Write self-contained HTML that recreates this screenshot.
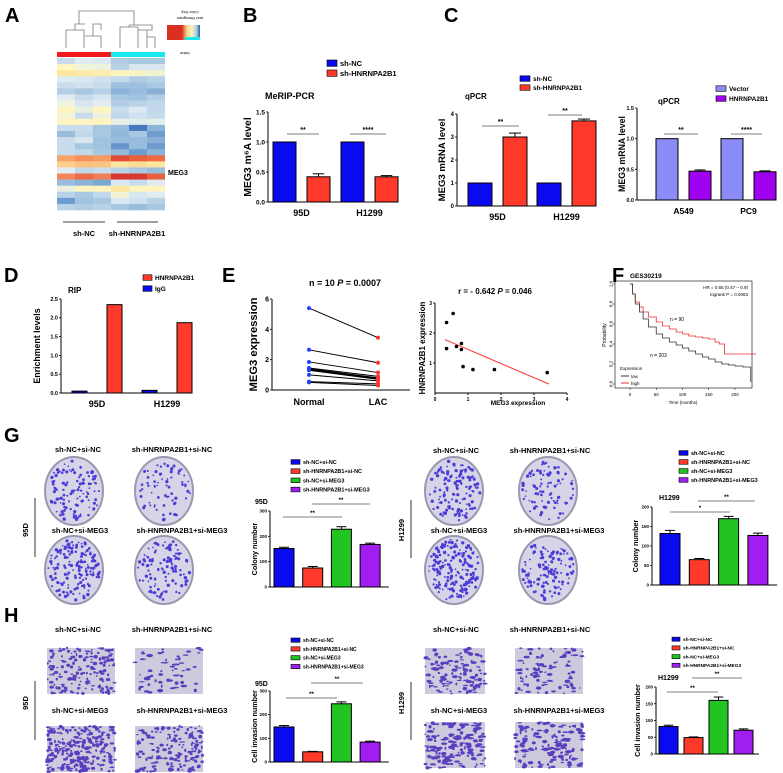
<!DOCTYPE html>
<html><head><meta charset="utf-8"><style>
html,body{margin:0;padding:0;background:#fff}
svg{display:block;font-family:"Liberation Sans",Arial,sans-serif}
</style></head><body>
<svg id="fig" width="783" height="773" viewBox="0 0 783 773" xmlns="http://www.w3.org/2000/svg">
<rect width="783" height="773" fill="#fff"/>
<g font-weight="bold" font-size="20">
<text x="5" y="22">A</text>
<text x="243" y="22">B</text>
<text x="444" y="22">C</text>
<text x="4" y="282">D</text>
<text x="222" y="282">E</text>
<text x="612" y="282">F</text>
<text x="4" y="442">G</text>
<text x="4" y="622">H</text>
</g>
<g id="heat"></g>
<g id="charts"></g>
</svg>
<script>
const NS="http://www.w3.org/2000/svg";
const svg=document.getElementById('fig');
const charts=document.getElementById('charts');
function el(tag,attrs,parent,txt){const e=document.createElementNS(NS,tag);for(const k in attrs)e.setAttribute(k,attrs[k]);if(txt!==undefined)e.textContent=txt;(parent||charts).appendChild(e);return e;}

// ---------- Data ----------
const heatRows=[
["c8dcec","e0ecf4","dce8f2","b0cce2","a8c8e0","a8c8e0"],
["fff7c0","f0f4d8","eef2dc","b8d2e6","d8e6f0","d8e6f0"],
["fde6a0","fdeaa8","fdeeb0","fef4c0","f8f4c8","f0f2d0"],
["dcecf0","dce8f0","d0e2f0","c4dcec","b0cce4","b8d2e8"],
["c8dcee","d0e2ee","c8dcec","a0c0e0","9cc0de","a8c8e4"],
["b4cee6","a8c8e2","b8d0e6","8cb4d8","98bcdc","88b0d6"],
["e0ecf2","c8dcee","d8e6f0","a8c8e2","a0c4e0","b4cee6"],
["f0f4dc","d8e6ee","e4eef0","b4cee6","b8d2e8","c0d8ea"],
["fff4c0","e8f0e0","fef4c0","c8dcec","dce8f2","c0d8ea"],
["f4f4d4","c8dcee","eef2dc","c0d8ea","d0e2ee","c4dcec"],
["fff4c0","fff4c0","fff4c0","e8f0e4","e0ecec","e4eee8"],
["c8dcee","c8dcee","a8c8e2","98bcdc","4a78c0","8cb4d8"],
["98bcdc","c0d8ea","a8c8e2","90b8da","a8c8e2","6c9cd0"],
["c8dcee","d8e6f0","a0c4e0","98bcdc","98bcdc","88b0d6"],
["c8dcee","a8c8e2","a0c4e0","6894cc","98bcdc","6c9cd0"],
["c8dcee","c0d8ea","a8c8e2","94b8da","6c9cd0","8cb4d8"],
["f6a46c","f4905c","f49a64","e04c38","e8603c","ec6a44"],
["fcd08c","fcc080","fcc484","fde6a0","fcdc98","fde6a0"],
["e0ecf2","c0d8ea","c8dcee","b8d2e8","a8c8e2","98bcdc"],
["f4845a","ec6a44","f07e54","d83830","d83830","e8603c"],
["98bcdc","8cb4d8","7ca8d4","dce8f2","c8dcee","e0ecf2"],
["e8f0e0","fff4c0","fff4c0","fde6a0","fff4c0","fff4c0"],
["b8d2e8","a8c8e2","c0d8ea","f4f4d4","d8e6f0","e0ecf2"],
["6c9cd0","a0c4e0","a8c8e2","dce8f2","d0e2ee","b8d2e8"],
["b8d2e8","b0cce4","b8d2e8","a8c8e2","98bcdc","a8c8e2"]];

const B_cats=["95D","H1299"], B_shNC=[1,1], B_shHN=[0.42,0.42], B_errNC=[0,0], B_errHN=[0.05,0.02];
const C1_cats=["95D","H1299"], C1_shNC=[1,1], C1_shHN=[3.0,3.7], C1_errHN=[0.17,0.08];
const C2_cats=["A549","PC9"], C2_vec=[1,1], C2_hn=[0.47,0.46], C2_errHN=[0.02,0.015];
const D_cats=["95D","H1299"], D_igg=[0.05,0.07], D_hn=[2.35,1.87];
const E_normal=[5.4,2.65,1.85,1.45,1.4,1.35,1.3,1.0,0.55,0.5];
const E_lac=[3.45,1.8,1.15,0.9,0.8,0.75,0.7,0.6,0.4,0.3];
const S_meg3=[0.35,0.55,0.35,0.65,0.8,0.8,0.85,1.15,1.8,3.4];
const S_hn=[2.35,2.65,1.48,1.55,1.65,1.45,0.88,0.78,0.78,0.68];
const S_fit=[[0.3,1.78],[3.45,0.3]];
const KM_lowT=[0,5,10,18,25,35,50,62,75,88,100,112,125,138,150,162,175,188,200,215,230];
const KM_lowS=[1,0.9,0.8,0.72,0.65,0.57,0.5,0.46,0.42,0.39,0.36,0.33,0.3,0.27,0.25,0.22,0.2,0.19,0.18,0.17,0.17];
const KM_highT=[0,5,10,18,25,35,50,62,75,88,100,112,125,138,150,162,170,180,200,220,240];
const KM_highS=[1,0.9,0.82,0.77,0.72,0.67,0.62,0.58,0.55,0.52,0.5,0.48,0.47,0.46,0.45,0.42,0.4,0.3,0.3,0.3,0.3];
const grpCats=["sh-NC+si-NC","sh-HNRNPA2B1+si-NC","sh-NC+si-MEG3","sh-HNRNPA2B1+si-MEG3"];
const G95_vals=[152,75,228,168], G95_err=[5,6,10,5];
const G1299_vals=[132,65,170,127], G1299_err=[8,3,6,6];
const H95_vals=[148,43,246,84], H95_err=[6,2,8,4];
const H1299_vals=[82,49,160,71], H1299_err=[4,2,10,4];
const grpColors=["#0a0af0","#ff3a2a","#22c422","#a01ef0"];

// ---------- Heatmap ----------
(function(){
  const g=document.getElementById('heat');
  const x0=57,y0=58,cw=18,rh=152/heatRows.length;
  heatRows.forEach((row,r)=>row.forEach((c,ci)=>{
    const e=el('rect',{x:x0+ci*cw,y:(y0+r*rh).toFixed(2),width:cw,height:(rh+0.3).toFixed(2),fill:'#'+c},g);
    
    
  }));
  el('rect',{x:57,y:52,width:54,height:5,fill:'#f01818'},g);
  el('rect',{x:111,y:52,width:54,height:5,fill:'#18e8f0'},g);
  el('path',{d:'M66 48V30H84V48 M75 30V24H85 M85 36H101V48 M84 36V30 M93 36V24H101V30 M79 24V11H134V25 M120 48V27H138V48 M129 27V25 M138 48V30H147V37H155V48 M147 37V48 M129 25H152V30H147',stroke:'#777',fill:'none','stroke-width':0.8},g);
  const grad=el('linearGradient',{id:'ck',x1:0,x2:1},g);
  [['0','#d93020'],['0.45','#d93020'],['0.6','#fcd08c'],['0.75','#fff4c0'],['0.9','#a8c8e2'],['1','#2060b0']].forEach(s=>el('stop',{offset:s[0],'stop-color':s[1]},grad));
  el('rect',{x:167,y:25,width:33,height:15,fill:'url(#ck)'},g);
  el('rect',{x:185,y:37,width:15,height:3,fill:'#18e8f0'},g);
  el('text',{x:190,y:15,'font-size':4,'text-anchor':'middle',transform:'rotate(180 190 13)'},g,'Color Key');
  el('text',{x:190,y:21,'font-size':4,'text-anchor':'middle',transform:'rotate(180 190 19)'},g,'and Histogram');
  el('text',{x:185,y:56,'font-size':4,'text-anchor':'middle',transform:'rotate(180 185 54)'},g,'Value');
  el('text',{x:168,y:175,'font-size':7,'font-weight':'bold'},g,'MEG3');
  el('line',{x1:63,y1:222,x2:105,y2:222,stroke:'#000','stroke-width':0.8},g);
  el('line',{x1:117,y1:222,x2:158,y2:222,stroke:'#000','stroke-width':0.8},g);
  el('text',{x:84,y:236,'font-size':7.5,'font-weight':'bold','text-anchor':'middle'},g,'sh-NC');
  el('text',{x:137,y:236,'font-size':7.5,'font-weight':'bold','text-anchor':'middle'},g,'sh-HNRNPA2B1');
})();

// ---------- helpers ----------
function txt(x,y,s,size,opts){const a=Object.assign({x:x,y:y,'font-size':size,'font-weight':'bold'},opts||{});return el('text',a,charts,s);}
function yaxis(ax,y0,h,max,ticks,size,title,tx){
  el('line',{x1:ax,y1:y0,x2:ax,y2:y0-h,stroke:'#000','stroke-width':1});
  const allInt=ticks.every(t=>Number.isInteger(t));
  ticks.forEach(t=>{const y=y0-t/max*h;el('line',{x1:ax-2,y1:y,x2:ax,y2:y,stroke:'#000','stroke-width':0.8});txt(ax-3,y+size*0.35,allInt?String(t):t.toFixed(1),size,{'text-anchor':'end'});});
  const ct=y0-h/2;
  const e=txt(tx,ct,title,size*1.6,{'text-anchor':'middle',transform:`rotate(-90 ${tx} ${ct})`});
  
  
}
function bar(x,w,y0,h,max,v,err,color,name){
  const top=y0-v/max*h;
  if(err){el('line',{x1:x+w/2,y1:top,x2:x+w/2,y2:y0-(v+err)/max*h,stroke:'#000','stroke-width':1});
    el('line',{x1:x+w*0.25,y1:y0-(v+err)/max*h,x2:x+w*0.75,y2:y0-(v+err)/max*h,stroke:'#000','stroke-width':1});}
  const r=el('rect',{x:x,y:top,width:w,height:v/max*h,fill:color,stroke:'#000','stroke-width':1});
  
  
}
function sig(x1,x2,y,s,size){el('line',{x1:x1,y1:y,x2:x2,y2:y,stroke:'#555','stroke-width':0.8});txt((x1+x2)/2,y-2,s,size||7,{'text-anchor':'middle'});}
function legend(x,y,dy,items,colors,size,bw){items.forEach((s,i)=>{const r=el('rect',{x:x,y:y+i*dy-size*0.8,width:bw,height:size*0.85,fill:colors[i],stroke:'#000','stroke-width':0.6});
  
  
  txt(x+bw+3,y+i*dy,s,size);});}
function grouped(ax,y0,h,max,off,w,pitch,gw,series,colors,errs,cats,catSize){
  cats.forEach((c,i)=>{series.forEach((s,j)=>bar(ax+off+i*gw+j*pitch,w,y0,h,max,s[i],errs[j]?errs[j][i]:0,colors[j],'bar-'+c.toLowerCase()+'-'+j));
    txt(ax+off+i*gw+(pitch+w)/2,y0+14,c,catSize,{'text-anchor':'middle'});});
  el('line',{x1:ax,y1:y0,x2:ax+off*2+gw*cats.length-pitch+w-off,y2:y0,stroke:'#000','stroke-width':1});
}

// ---------- B ----------
legend(327,66,10,["sh-NC","sh-HNRNPA2B1"],["#0a0af0","#ff3a2a"],7.5,10);
txt(265,99,"MeRIP-PCR",9);
yaxis(268,202,90,1.5,[0,0.5,1,1.5],6.5,"MEG3 m\u2076A level",251);
grouped(268,202,90,1.5,5,23,34,68,[B_shNC,B_shHN],["#0a0af0","#ff3a2a"],[B_errNC,B_errHN],B_cats,9);
sig(287,319,134,"**");sig(350,386,134,"****");

// ---------- C1 ----------
legend(520,81,9,["sh-NC","sh-HNRNPA2B1"],["#0a0af0","#ff3a2a"],6.5,10);
txt(465,99,"qPCR",8);
yaxis(457,206,92,4,[0,1,2,3,4],6,"MEG3 mRNA level",445);
grouped(457,206,92,4,11,24,35,69,[C1_shNC,C1_shHN],["#0a0af0","#ff3a2a"],[null,C1_errHN],C1_cats,9);
sig(482,519,126,"**");sig(548,582,115,"**");

// ---------- C2 ----------
legend(716,91,10,["Vector","HNRNPA2B1"],["#8c8cf8","#a000f0"],6.5,10);
txt(658,104,"qPCR",8);
yaxis(637,200,92,1.5,[0,0.5,1,1.5],5.5,"MEG3 mRNA level",625);
grouped(637,200,92,1.5,19,22,33,65,[C2_vec,C2_hn],["#8c8cf8","#a000f0"],[null,C2_errHN],C2_cats,8.5);
sig(664,698,134,"**");sig(731,762,134,"****");

// ---------- D ----------
legend(143,280,11,["HNRNPA2B1","IgG"],["#ff3a2a","#0a0af0"],6.5,9);
txt(68,293,"RIP",8);
yaxis(61,393,94,2.5,[0,0.5,1,1.5,2,2.5],5.5,"Enrichment levels",40);
grouped(61,393,94,2.5,11,15,35,70,[D_igg,D_hn],["#0a0af0","#ff3a2a"],[null,null],D_cats,9);

// ---------- E1 paired ----------
(function(){
  const ax=272,y0=390,h=91,max=6,xN=309,xL=378;
  const t=txt(345,286,"",9,{'text-anchor':'middle'});t.innerHTML='n = 10 <tspan font-style="italic">P</tspan> = 0.0007';
  
  yaxis(ax,y0,h,max,[0,2,4,6],7,"MEG3 expression",257);
  el('line',{x1:ax,y1:y0,x2:410,y2:y0,stroke:'#000','stroke-width':1});
  E_normal.forEach((v,i)=>{const y1=y0-v/max*h,y2=y0-E_lac[i]/max*h;
    el('line',{x1:xN,y1:y1,x2:xL,y2:y2,stroke:'#000','stroke-width':1});
    const a=el('circle',{cx:xN,cy:y1,r:2,fill:'#2040ff'});
    const b=el('circle',{cx:xL,cy:y2,r:2,fill:'#ff3030'});});
  txt(xN,405,"Normal",9,{'text-anchor':'middle'});txt(xL,405,"LAC",9,{'text-anchor':'middle'});
})();

// ---------- E2 scatter ----------
(function(){
  const ax=435,y0=393,h=90,ymax=3,xs=33;
  const t=txt(495,294,"",8,{'text-anchor':'middle'});t.innerHTML='r = - 0.642 <tspan font-style="italic">P</tspan> = 0.046';
  
  yaxis(ax,y0,h,ymax,[1,2,3],5,"HNRNPA2B1 expression",425);
  el('line',{x1:ax,y1:y0,x2:ax+4*xs,y2:y0,stroke:'#000','stroke-width':1});
  [0,1,2,3,4].forEach(v=>{el('line',{x1:ax+v*xs,y1:y0,x2:ax+v*xs,y2:y0+2,stroke:'#000'});txt(ax+v*xs,y0+8,String(v),5,{'text-anchor':'middle'});});
  txt(518,405,"MEG3 expression",6.5,{'text-anchor':'middle'});
  el('line',{x1:ax+S_fit[0][0]*xs,y1:y0-S_fit[0][1]/ymax*h,x2:ax+S_fit[1][0]*xs,y2:y0-S_fit[1][1]/ymax*h,stroke:'#ff3030','stroke-width':1});
  S_meg3.forEach((v,i)=>{const c=el('circle',{cx:ax+v*xs,cy:y0-S_hn[i]/ymax*h,r:1.8,fill:'#000'});});
})();

// ---------- F KM ----------
(function(){
  const x0=630,xs=105/200,y0=384,h=100;
  el('rect',{x:615,y:281,width:137,height:107,fill:'none',stroke:'#000','stroke-width':0.6});
  txt(630,278,"GES30219",6.5);
  txt(748,289,"HR = 0.65 (0.47 \u2212 0.9)",4.5,{'text-anchor':'end','font-weight':'normal'});
  txt(748,296,"logrank P = 0.0083",4.5,{'text-anchor':'end','font-weight':'normal'});
  [0,0.2,0.4,0.6,0.8,1].forEach(v=>{const y=y0-v*h;el('line',{x1:613,y1:y,x2:615,y2:y,stroke:'#000','stroke-width':0.5});txt(611,y+1.5,v.toFixed(1),4.5,{'font-weight':'normal','text-anchor':'middle',transform:`rotate(-90 611 ${y})`});});
  [0,50,100,150,200].forEach(v=>{const x=x0+v*xs;el('line',{x1:x,y1:388,x2:x,y2:390,stroke:'#000','stroke-width':0.5});txt(x,396,String(v),4.5,{'font-weight':'normal','text-anchor':'middle'});});
  txt(683,404,"Time (months)",4.5,{'font-weight':'normal','text-anchor':'middle'});
  txt(606,335,"Probability",5,{'font-weight':'normal','text-anchor':'middle',transform:'rotate(-90 606 335)'});
  function step(T,S,col,name){let d=`M${x0+T[0]*xs} ${y0-S[0]*h}`;for(let i=1;i<T.length;i++){d+=`H${x0+T[i]*xs}V${y0-S[i]*h}`;}
    const p=el('path',{d:d,fill:'none',stroke:col,'stroke-width':0.8});return p;}
  step(KM_highT,KM_highS,'#e83030','km-high');
  step(KM_lowT,KM_lowS,'#333','km-low');
  el('line',{x1:x0+230*xs,y1:y0-0.17*h,x2:x0+230*xs,y2:y0-0.02*h,stroke:'#333','stroke-width':0.8});
  txt(670,321,"n = 90",5,{'font-weight':'normal'});txt(650,357,"n = 203",5,{'font-weight':'normal'});
  txt(620,370,"Expression",4.5,{'font-weight':'normal'});
  el('line',{x1:621,y1:376,x2:629,y2:376,stroke:'#333'});txt(631,378,"low",4.5,{'font-weight':'normal'});
  el('line',{x1:621,y1:383,x2:629,y2:383,stroke:'#e83030'});txt(631,385,"high",4.5,{'font-weight':'normal'});
})();

// ---------- images (decorative textures) ----------
let seed=7;function rnd(){seed=(seed*16807)%2147483647;return seed/2147483647;}
function plate(cx,cy,rx,ry,n){
  const g=el('g',{});
  el('ellipse',{cx:cx,cy:cy,rx:rx,ry:ry,fill:'#d6d4e6',stroke:'#9a98b0','stroke-width':2},g);
  for(let i=0;i<n;i++){const a=rnd()*6.283,r=Math.sqrt(rnd())*0.9;el('circle',{cx:cx+Math.cos(a)*r*rx,cy:cy+Math.sin(a)*r*ry,r:0.8+rnd()*0.9,fill:'#4a3cd8'},g);}
}
function field(x,y,w,hh,n,big){
  const g=el('g',{});
  el('rect',{x:x,y:y,width:w,height:hh,fill:'#cccadc'},g);
  for(let i=0;i<n;i++){el('ellipse',{cx:x+rnd()*w,cy:y+rnd()*hh,rx:0.8+rnd()*(big?2.5:1.6),ry:0.6+rnd()*1.2,fill:'#5a3ec0'},g);}
}
function photoLabels(xs,y1,y2,cl,vname,vx,vy,ly1,ly2){
  txt(xs[0],y1,grpCats[0],7.5,{'text-anchor':'middle'});txt(xs[1],y1,grpCats[1],7.5,{'text-anchor':'middle'});
  txt(xs[2],y2,grpCats[2],7.5,{'text-anchor':'middle'});txt(xs[3],y2,grpCats[3],7.5,{'text-anchor':'middle'});
  txt(vx,vy,vname,7.5,{'text-anchor':'middle',transform:`rotate(-90 ${vx} ${vy})`});
  el('line',{x1:vx+7,y1:ly1,x2:vx+7,y2:ly2,stroke:'#000','stroke-width':0.8});
}
plate(74,491,29,34,110);plate(164,491,29,34,70);plate(74,570,29,34,170);plate(164,570,29,34,110);
photoLabels([78,172,80,182],452,533,0,"95D",28,530,498,557);
plate(454,491,29,34,140);plate(548,491,29,34,90);plate(454,570,29,34,190);plate(548,570,29,34,120);
photoLabels([456,550,459,559],453,533,0,"H1299",404,530,500,558);
field(47,648,68,46,160,false);field(135,648,68,46,60,true);field(47,726,68,46,260,false);field(135,726,68,46,160,false);
photoLabels([78,172,80,182],632,713,0,"95D",28,703,681,740);
field(425,648,60,46,120,true);field(515,648,68,46,90,true);field(425,722,60,46,170,true);field(515,722,68,46,140,true);
photoLabels([456,550,459,559],632,713,0,"H1299",404,703,682,740);

// ---------- G/H bar charts ----------
function four(ax,y0,h,max,ticks,start,pitch,w,vals,errs,title,tx,ty,ytitle,ytx,prefix){
  txt(tx,ty,title,7);
  yaxis(ax,y0,h,max,ticks,4.5,ytitle,ytx);
  el('line',{x1:ax,y1:y0,x2:ax+start+pitch*4,y2:y0,stroke:'#000','stroke-width':1});
  vals.forEach((v,i)=>bar(ax+start+i*pitch,w,y0,h,max,v,errs[i],grpColors[i],prefix+'-bar-'+i));
}
legend(291,464,9.2,grpCats,grpColors,5.5,9);
four(270,587,76,300,[0,100,200,300],4,28.7,20,G95_vals,G95_err,"95D",255,504,"Colony number",257,'g95d');
sig(283,342,517,"**",6);sig(312,370,504,"**",6);
legend(679,455,9,grpCats,grpColors,5.5,9);
four(652,585,78,200,[0,50,100,150,200],8,29.3,20,G1299_vals,G1299_err,"H1299",659,500,"Colony number",638,'g1299');
sig(670,730,512,"*",6);sig(698,755,501,"**",6);
legend(291,642,8.8,grpCats,grpColors,5,9);
four(270,762,71,300,[0,100,200,300],4,28.7,20,H95_vals,H95_err,"95D",255,686,"Cell invasion number",257,'h95d');
sig(286,337,698,"**",6);sig(311,363,683,"**",6);
legend(672,641,8.7,grpCats,grpColors,4.8,8);
four(656,754,67,200,[0,50,100,150,200],3,25,19,H1299_vals,H1299_err,"H1299",658,680,"Cell invasion number",640,'h1299');
sig(667,718,692,"**",6);sig(692,742,678,"**",6);
</script>
</body></html>
